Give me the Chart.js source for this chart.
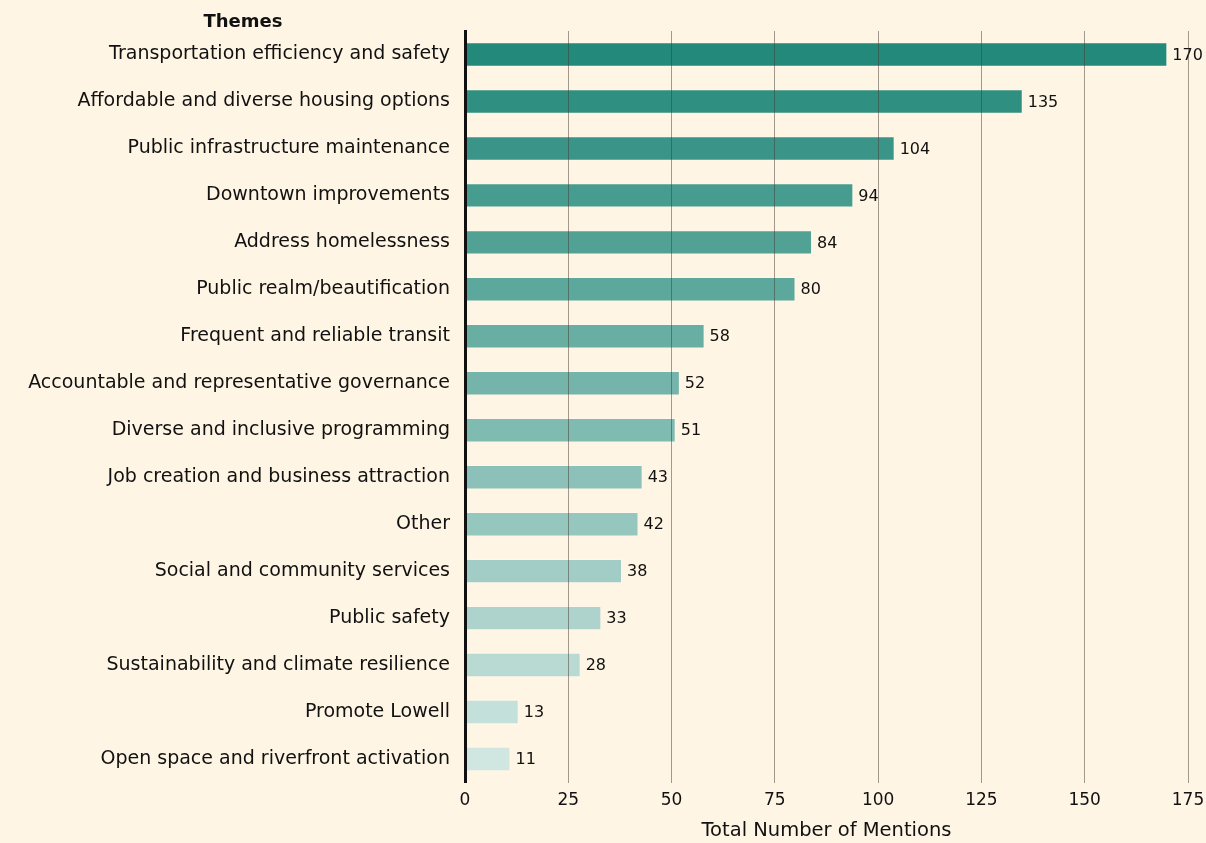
<!DOCTYPE html>
<html>
<head>
<meta charset="utf-8">
<script src="https://cdn.jsdelivr.net/npm/chart.js@4.4.1/dist/chart.umd.min.js"></script>
<style>
    html, body { margin: 0; padding: 0; background: #fef5e4; }
    #wrap { width: 1206px; height: 843px; }
</style>
</head>
<body>
<div id="wrap"><canvas id="chart"></canvas></div>
<script>
const themes = [
    "Transportation efficiency and safety",
    "Affordable and diverse housing options",
    "Public infrastructure maintenance",
    "Downtown improvements",
    "Address homelessness",
    "Public realm/beautification",
    "Frequent and reliable transit",
    "Accountable and representative governance",
    "Diverse and inclusive programming",
    "Job creation and business attraction",
    "Other",
    "Social and community services",
    "Public safety",
    "Sustainability and climate resilience",
    "Promote Lowell",
    "Open space and riverfront activation",
]
const mentions = [170, 135, 104, 94, 84, 80, 58, 52, 51, 43, 42, 38, 33, 28, 13, 11]
const xTicks = [0, 25, 50, 75, 100, 125, 150, 175]

const FONT = "'DejaVu Sans', sans-serif"
const dark = [35, 137, 122]
const light = [208, 230, 225]

// shade bars from dark teal at the top to pale at the bottom
const barColors = themes.map((_, i) => {
    const t = i / (themes.length - 1)
    const c = dark.map((d, k) => Math.round(d + (light[k] - d) * t))
    return `rgb(${c.join(",")})`
})

const valueLabels = {
    id: "valueLabels",
    afterDatasetsDraw(chart) {
        const { ctx } = chart
        const meta = chart.getDatasetMeta(0)
        ctx.save()
        ctx.font = `16px ${FONT}`
        ctx.fillStyle = "#111"
        ctx.textAlign = "left"
        ctx.textBaseline = "middle"
        meta.data.forEach((bar, i) => {
            ctx.fillText(String(mentions[i]), bar.x + 5, bar.y + 1)
        })
        ctx.restore()
    },
}

const themesTitle = {
    id: "themesTitle",
    afterDraw(chart) {
        const { ctx } = chart
        ctx.save()
        ctx.font = `bold 18px ${FONT}`
        ctx.fillStyle = "#111"
        ctx.textAlign = "center"
        ctx.textBaseline = "middle"
        ctx.fillText("Themes", 243, 22)
        ctx.restore()
    },
}

new Chart(document.getElementById("chart"), {
    type: "bar",
    data: {
        labels: themes,
        datasets: [
            {
                data: mentions,
                backgroundColor: barColors,
                borderColor: "rgba(255,255,255,0.25)",
                borderWidth: 1,
                borderSkipped: "left",
                barPercentage: 0.52,
                categoryPercentage: 1,
            },
        ],
    },
    options: {
        indexAxis: "y",
        responsive: true,
        maintainAspectRatio: false,
        animation: false,
        layout: {
            padding: { top: 31, right: 0, bottom: 0, left: 0 },
        },
        plugins: {
            legend: false,
            tooltip: { enabled: false },
        },
        scales: {
            x: {
                min: 0,
                max: 175,
                afterBuildTicks: (scale) => {
                    scale.ticks = xTicks.map((v) => ({ value: v }))
                },
                afterFit: (scale) => {
                    // leave just enough room on the right for the "175" tick
                    scale.paddingRight = 18
                },
                grid: {
                    color: "rgba(70,60,50,0.5)",
                    lineWidth: 1,
                    drawTicks: false,
                    z: 1,
                },
                border: { display: false },
                ticks: {
                    padding: 10,
                    color: "#111",
                    font: { family: FONT, size: 17, lineHeight: 1 },
                },
                title: {
                    display: true,
                    text: "Total Number of Mentions",
                    color: "#111",
                    font: { family: FONT, size: 19.5, lineHeight: 1 },
                    padding: { top: 2, bottom: 2 },
                },
            },
            y: {
                afterFit: (scale) => {
                    scale.width = 465
                },
                grid: { display: false, drawTicks: false },
                border: { display: true, color: "#111", width: 3, z: 2 },
                ticks: {
                    padding: 15,
                    autoSkip: false,
                    color: "#111",
                    font: { family: FONT, size: 19 },
                },
            },
        },
    },
    plugins: [valueLabels, themesTitle],
})
</script>
</body>
</html>
